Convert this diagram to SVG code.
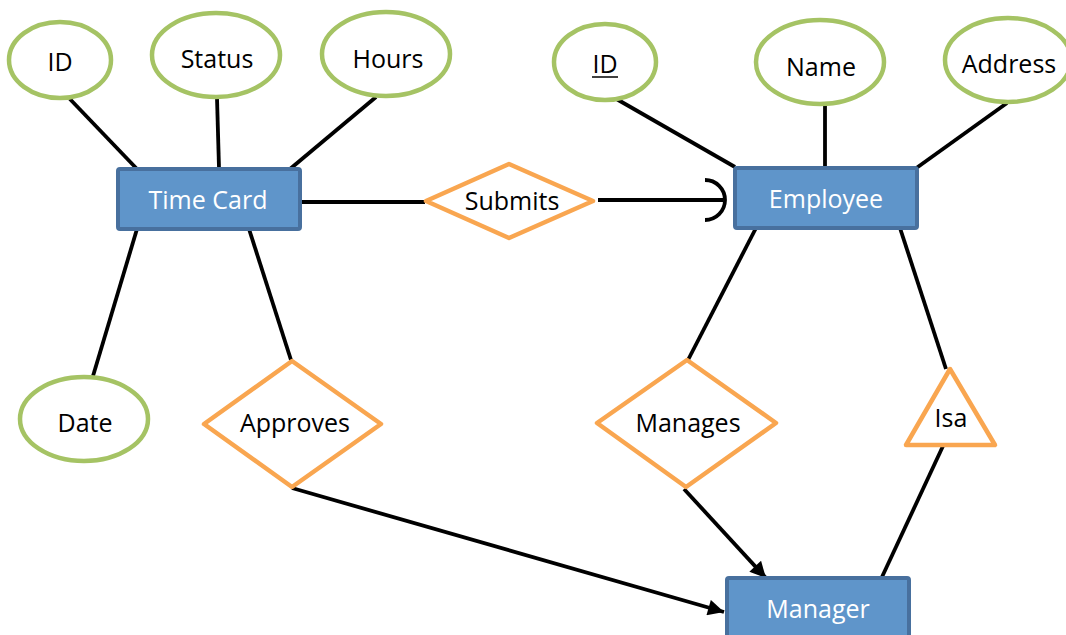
<svg xmlns="http://www.w3.org/2000/svg" width="1066" height="635" viewBox="0 0 1066 635">
  <style>
    .entity rect { fill: #5F95CA; stroke: #48709E; stroke-width: 4; }
    .entity text { fill: #FFFFFF; font-family: "Open Sans", "Liberation Sans", sans-serif; font-size: 25px; text-anchor: middle; }
    .attr ellipse { fill: #FFFFFF; stroke: #A5C364; stroke-width: 4.5; }
    .rel polygon { fill: #FFFFFF; stroke: #F9A650; stroke-width: 4.5; stroke-linejoin: round; }
    .attr text, .rel text { fill: #000000; font-family: "Open Sans", "Liberation Sans", sans-serif; font-size: 25px; text-anchor: middle; }
    .edges line, .edges path { stroke: #000000; stroke-width: 3.8; fill: none; }
  </style>
  <defs>
    <marker id="arrow" viewBox="0 0 10 10" refX="10" refY="5" markerWidth="4.6" markerHeight="4.2" markerUnits="strokeWidth" orient="auto">
      <path d="M0,0 L10,5 L0,10 z" fill="#000000"/>
    </marker>
  </defs>

  <!-- connectors -->
  <g class="edges">
    <line x1="68" y1="97" x2="137" y2="169"/>
    <line x1="217" y1="98" x2="219" y2="168"/>
    <line x1="376" y1="97" x2="290" y2="169"/>
    <line x1="299" y1="202" x2="425" y2="202"/>
    <line x1="137" y1="229" x2="93" y2="376"/>
    <line x1="249" y1="229" x2="291" y2="360"/>
    <line x1="598" y1="200" x2="723" y2="200"/>
    <path d="M705,180 A20,20 0 0 1 705,220"/>
    <line x1="613" y1="97" x2="735" y2="167"/>
    <line x1="825" y1="104" x2="825" y2="168"/>
    <line x1="1007" y1="103" x2="915" y2="169"/>
    <line x1="756" y1="228" x2="688" y2="360"/>
    <line x1="900" y1="228" x2="946" y2="369"/>
    <line x1="684" y1="489" x2="766" y2="578" marker-end="url(#arrow)"/>
    <line x1="943" y1="446" x2="882" y2="577"/>
    <line x1="292" y1="488" x2="724" y2="612" marker-end="url(#arrow)"/>
  </g>

  <!-- entities -->
  <g id="time-card" class="entity">
    <rect x="118" y="169" width="182" height="60" rx="2"/>
    <text x="208" y="209">Time Card</text>
  </g>
  <g id="employee" class="entity">
    <rect x="735" y="168" width="182" height="60" rx="2"/>
    <text x="826" y="208">Employee</text>
  </g>
  <g id="manager" class="entity">
    <rect x="727" y="578" width="182" height="70" rx="2"/>
    <text x="818" y="618">Manager</text>
  </g>

  <!-- attributes -->
  <g id="tc-id" class="attr">
    <ellipse cx="60" cy="60" rx="51" ry="38"/>
    <text x="60" y="71">ID</text>
  </g>
  <g id="tc-status" class="attr">
    <ellipse cx="216" cy="55" rx="64" ry="42"/>
    <text x="217" y="68">Status</text>
  </g>
  <g id="tc-hours" class="attr">
    <ellipse cx="386" cy="54" rx="64" ry="42"/>
    <text x="388" y="68">Hours</text>
  </g>
  <g id="tc-date" class="attr">
    <ellipse cx="84" cy="419" rx="64" ry="42"/>
    <text x="85" y="432">Date</text>
  </g>
  <g id="emp-id" class="attr">
    <ellipse cx="605" cy="62" rx="51" ry="38"/>
    <text x="605" y="73">ID</text>
    <line x1="592" y1="77" x2="618" y2="77" stroke="#000000" stroke-width="1.5"/>
  </g>
  <g id="emp-name" class="attr">
    <ellipse cx="820" cy="62" rx="64" ry="42"/>
    <text x="821" y="76">Name</text>
  </g>
  <g id="emp-address" class="attr">
    <ellipse cx="1008" cy="60" rx="63" ry="42"/>
    <text x="1009" y="73">Address</text>
  </g>

  <!-- relationships -->
  <g id="submits" class="rel">
    <polygon points="509,164 593,201 509,238 426,201"/>
    <text x="512" y="210">Submits</text>
  </g>
  <g id="approves" class="rel">
    <polygon points="292,361 381,424 292,487 204,424"/>
    <text x="295" y="432">Approves</text>
  </g>
  <g id="manages" class="rel">
    <polygon points="687,360 776,423 686,487 597,423"/>
    <text x="688" y="432">Manages</text>
  </g>
  <g id="isa" class="rel">
    <polygon points="950,369 995,445 906,445"/>
    <text x="951" y="427">Isa</text>
  </g>
</svg>
